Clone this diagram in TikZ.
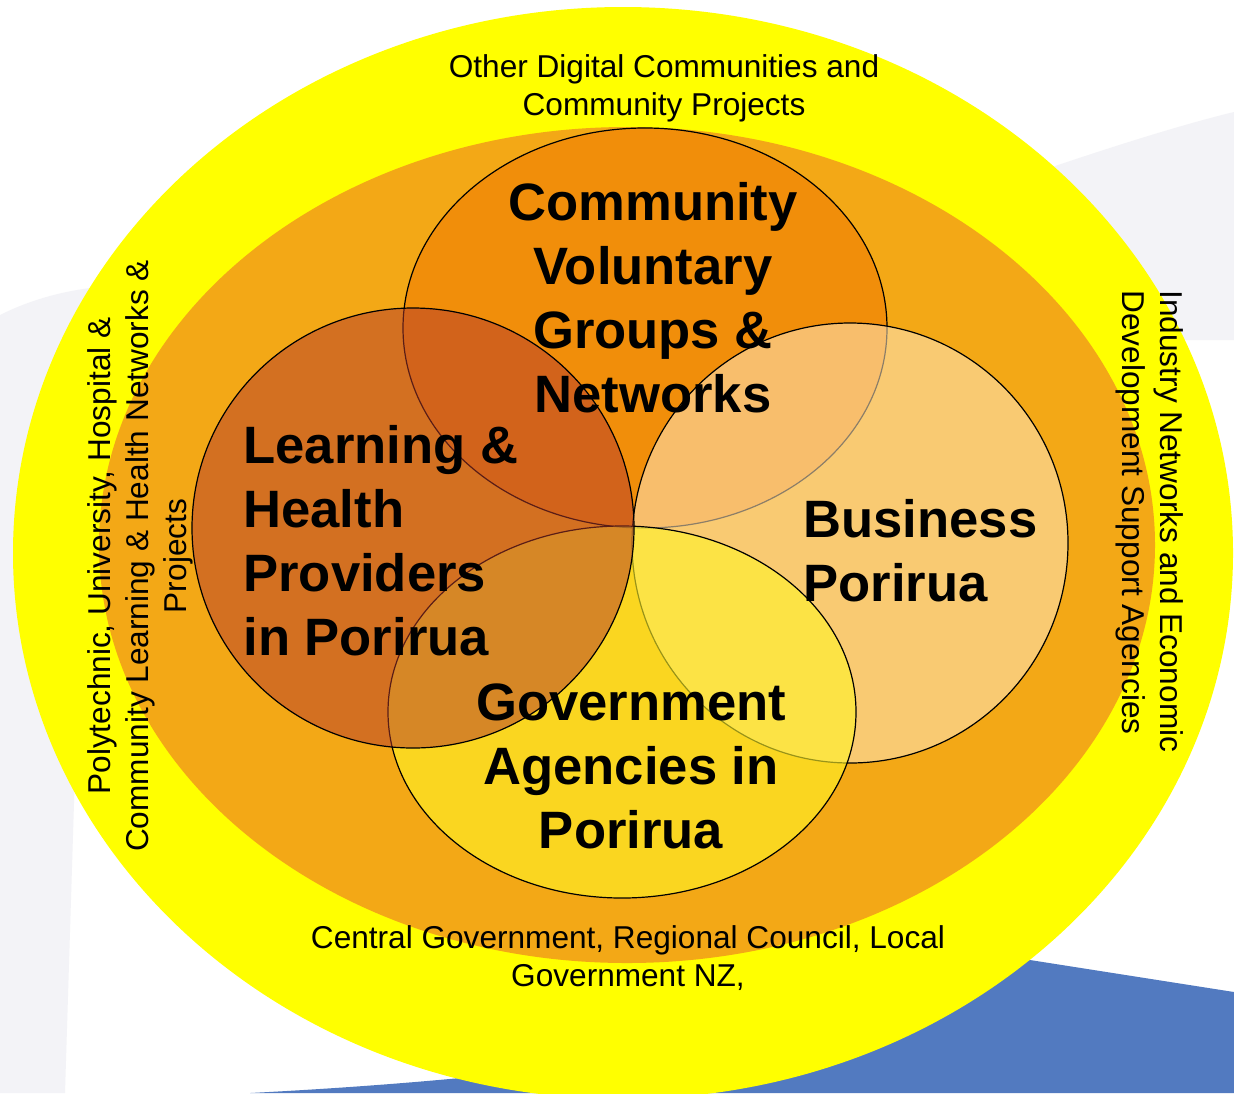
\documentclass[tikz,border=0pt]{standalone}
\usepackage{fontspec}
\setmainfont{Liberation Sans}
\usepackage{xcolor}
\usepackage{tikz}
\definecolor{sunyellow}{RGB}{255,255,0}
\definecolor{dotorange}{RGB}{243,168,22}
\definecolor{voluntary}{RGB}{240,118,0}
\definecolor{learning}{RGB}{180,58,45}
\definecolor{business}{RGB}{255,230,190}
\definecolor{government}{RGB}{255,245,40}
\definecolor{slideblue}{RGB}{82,122,192}
\definecolor{slidegrey}{RGB}{243,243,247}

\begin{document}
\begin{tikzpicture}[x=0.5pt,y=-0.5pt,
  outer/.style={font=\fontsize{15.8}{19}\selectfont,align=center,inner sep=0pt},
  group/.style={font=\fontsize{26.3}{32}\selectfont\bfseries,inner sep=0pt},
  ring/.style={draw=black,line width=0.6pt,fill opacity=0.5}]
\useasboundingbox (0,0) rectangle (1234,1093);
% slide background
\fill[white] (0,0) rectangle (1234,1093);
\fill[slidegrey] (0,315) .. controls (30,300) and (60,292) .. (90,288) -- (65,1093) -- (0,1093) -- cycle;
\fill[slidegrey] (1000,185) .. controls (1100,150) and (1180,125) .. (1234,112) -- (1234,340) -- (1000,340) -- cycle;
\fill[slideblue] (250,1093) .. controls (500,1080) and (800,1050) .. (1030,960) -- (1234,992) -- (1234,1093) -- cycle;
% outer rings
\fill[sunyellow] (623,553) ellipse [x radius=610, y radius=546];
\fill[dotorange] (627,545) ellipse [x radius=528, y radius=418];
% four groups
\path[ring,fill=voluntary] (645,328) ellipse [x radius=242, y radius=200];
\path[ring,fill=business,fill opacity=0.55] (850,543) ellipse [x radius=218, y radius=220];
\path[ring,fill=government,fill opacity=0.6] (622,712) ellipse [x radius=234, y radius=186];
\path[ring,fill=learning] (413,528) ellipse [x radius=221, y radius=220];
% labels
\node[outer] (digital) at (664,88) {Other Digital Communities and\\Community Projects};
\node[outer] (central) at (628,958) {Central Government, Regional Council, Local\\Government NZ,};
\node[outer,rotate=90] (tertiary) at (140,556) {Polytechnic, University, Hospital \&\\Community Learning \& Health Networks \&\\Projects};
\node[outer,rotate=-90,align=left,anchor=north west] (industry) at (1184,290) {Industry Networks and Economic\\Development Support Agencies};
\node[group,align=center] (voluntarylbl) at (653,298) {Community\\Voluntary\\Groups \&\\Networks};
\node[group,align=left,anchor=west] (learninglbl) at (243,541) {Learning \&\\Health\\Providers\\in Porirua};
\node[group,align=left,anchor=west] (businesslbl) at (803,551) {Business\\Porirua};
\node[group,align=center] (governmentlbl) at (631,766) {Government\\Agencies in\\Porirua};
\end{tikzpicture}
\end{document}
